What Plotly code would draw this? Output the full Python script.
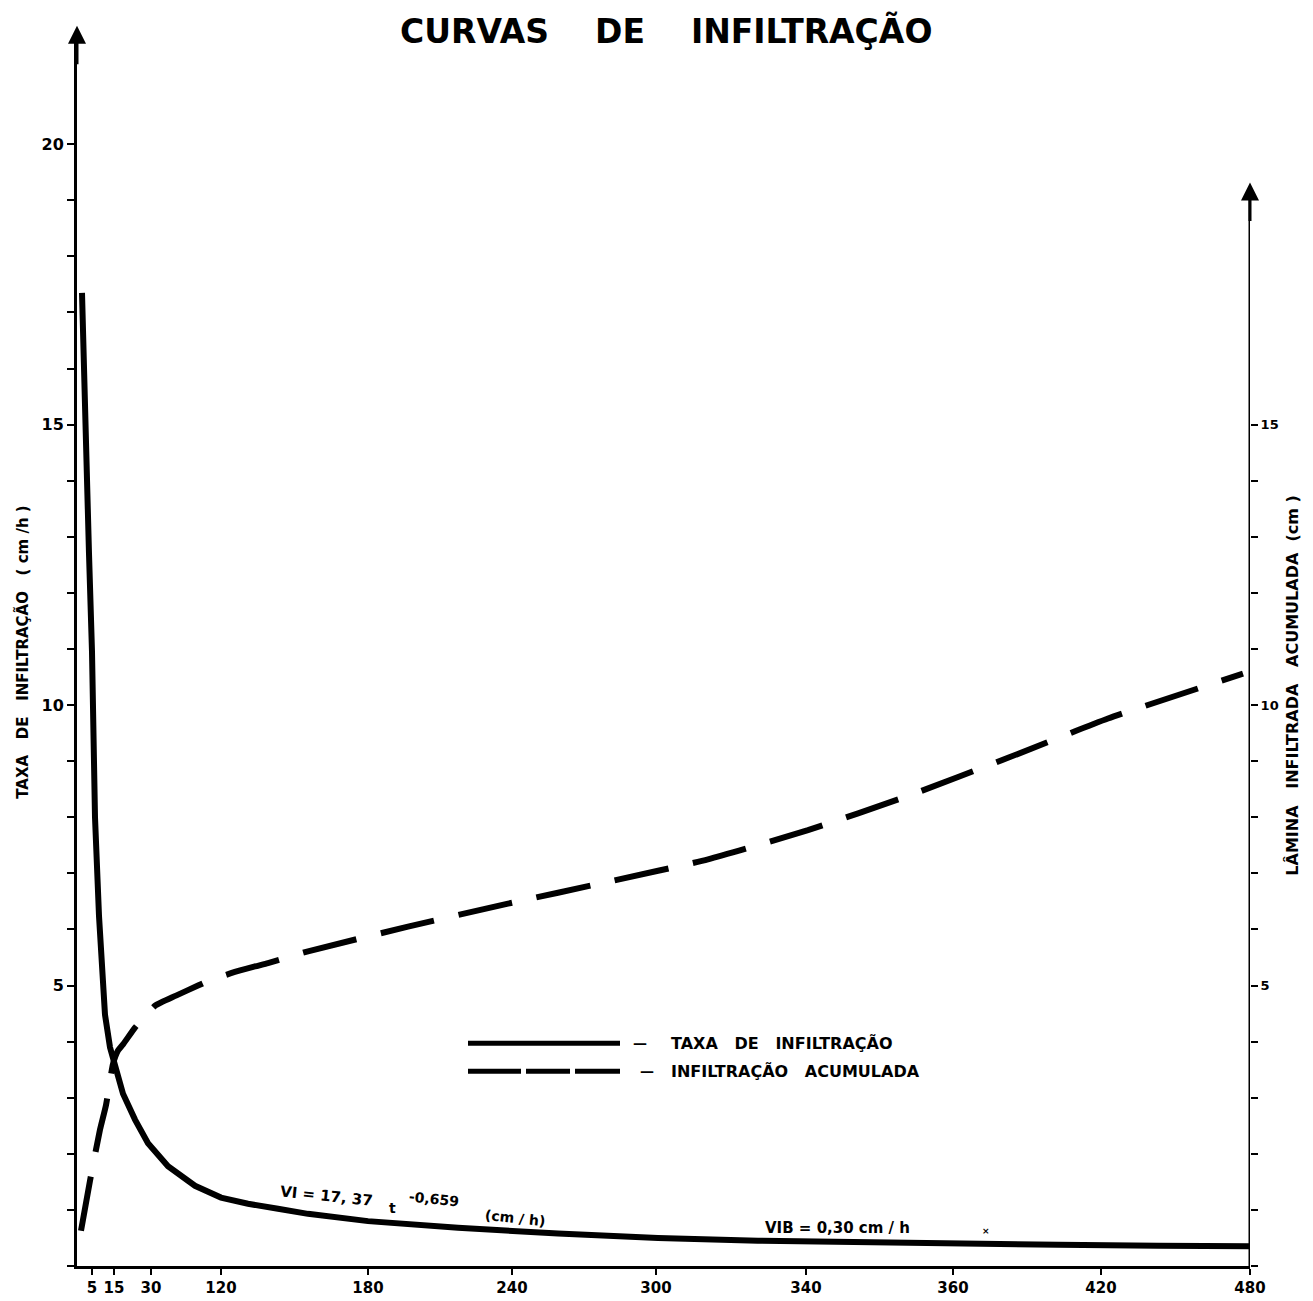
import plotly.graph_objects as go

# ---- data (x in drawing-position units along the hand-drawn time axis) ----
tick_pos = [15, 37, 74, 144, 291, 435, 579, 729, 876, 1024, 1173]
tick_labels = ["5", "15", "30", "120", "180", "240", "300", "340", "360", "420", "480"]

vi_x = [5, 8, 12, 15, 18, 22, 25, 28, 33, 38, 46, 58, 71, 91, 118, 144, 171, 201, 231,
        291, 381, 481, 581, 681, 781, 881, 981, 1081, 1173]
vi_y = [17.35, 15.0, 12.7, 10.95, 8.0, 6.24, 5.3, 4.48, 3.90, 3.58, 3.07, 2.61, 2.19, 1.78,
        1.43, 1.22, 1.11, 1.02, 0.93, 0.80, 0.68, 0.58, 0.50, 0.45, 0.42, 0.40, 0.38, 0.36, 0.35]

ia_x = [4, 13, 23, 29, 36, 41, 46, 58, 71, 78, 99, 121, 131, 154, 178, 191, 231,
        331, 431, 531, 631, 731, 831, 931, 1031, 1166]
ia_y = [0.63, 1.52, 2.43, 2.87, 3.60, 3.84, 3.95, 4.25, 4.51, 4.64, 4.82, 5.0, 5.08, 5.22,
        5.34, 5.40, 5.61, 6.05, 6.46, 6.85, 7.25, 7.77, 8.38, 9.06, 9.76, 10.56]

left_ticks = list(range(0, 21))
left_text = [str(v) if v in (5, 10, 15, 20) else "" for v in left_ticks]
right_ticks = list(range(0, 16))
right_text = [str(v) if v in (5, 10, 15) else "" for v in right_ticks]

FONT = "DejaVu Sans"
BLACK = "#000000"


def bold(size):
    return dict(family=FONT, size=size, weight="bold", color=BLACK)


fig = go.Figure()
fig.add_trace(go.Scatter(x=vi_x, y=vi_y, mode="lines", line=dict(color=BLACK, width=6),
                         showlegend=False, hoverinfo="skip"))
fig.add_trace(go.Scatter(x=ia_x, y=ia_y, mode="lines", yaxis="y2",
                         line=dict(color=BLACK, width=6, dash="55px,25px", shape="spline", smoothing=0.5),
                         showlegend=False, hoverinfo="skip"))

fig.update_layout(
    width=1313, height=1301,
    margin=dict(l=69, r=71, t=24, b=29),
    paper_bgcolor="white", plot_bgcolor="white",
    font=dict(family=FONT, color=BLACK),
    xaxis=dict(range=[0, 1173], showgrid=False, zeroline=False, showline=True,
               linecolor=BLACK, linewidth=3, ticks="outside", ticklen=6, tickwidth=2,
               tickcolor=BLACK, tickvals=tick_pos, ticktext=tick_labels,
               tickfont=bold(15), fixedrange=True),
    yaxis=dict(range=[0, 22], showgrid=False, zeroline=False, showline=True,
               linecolor=BLACK, linewidth=3, ticks="outside", ticklen=7, tickwidth=2,
               tickcolor=BLACK, tickvals=left_ticks, ticktext=left_text,
               tickfont=bold(16)),
    yaxis2=dict(range=[0, 22], overlaying="y", side="right", showgrid=False, zeroline=False,
                showline=False, ticks="outside", ticklen=7, tickwidth=2, tickcolor=BLACK,
                tickvals=right_ticks, ticktext=right_text, tickfont=bold(13)),
)

shapes = []
# right axis (shorter than the plot)
shapes.append(dict(type="line", xref="x", yref="y", x0=1173, x1=1173, y0=0, y1=19.2,
                   line=dict(color=BLACK, width=3)))
# scan border on far right
shapes.append(dict(type="line", xref="paper", yref="paper", x0=1.0563, x1=1.0563, y0=-0.02, y1=1.02,
                   line=dict(color=BLACK, width=3)))
# legend samples
shapes.append(dict(type="line", xref="x", yref="y", x0=391, x1=543, y0=3.97, y1=3.97,
                   line=dict(color=BLACK, width=5)))
for a, b in [(391, 444), (449, 493), (498, 543)]:
    shapes.append(dict(type="line", xref="x", yref="y", x0=a, x1=b, y0=3.47, y1=3.47,
                       line=dict(color=BLACK, width=5)))
fig.update_layout(shapes=shapes)


def txt(x, y, text, size, xref="x", yref="y", angle=0, xanchor="center", yanchor="middle"):
    return dict(x=x, y=y, xref=xref, yref=yref, showarrow=False, text=text, textangle=angle,
                xanchor=xanchor, yanchor=yanchor, font=bold(size))


ann = []
# axis arrowheads (tips placed in paper coordinates)
ann.append(dict(x=0, y=1.005, xref="paper", yref="paper", ax=0, ay=40,
                showarrow=True, arrowhead=2, arrowsize=1.2, arrowwidth=3, arrowcolor=BLACK, text=""))
ann.append(dict(x=1, y=0.878, xref="paper", yref="paper", ax=0, ay=40,
                showarrow=True, arrowhead=2, arrowsize=1.2, arrowwidth=3, arrowcolor=BLACK, text=""))
# title
ann.append(txt(0.502, 1.019, "CURVAS    DE    INFILTRAÇÃO", 33, "paper", "paper", yanchor="top"))
# axis titles
ann.append(txt(-0.046, 0.497, "TAXA   DE   INFILTRAÇÃO   ( cm /h )", 15, "paper", "paper", -90))
ann.append(txt(1.0355, 0.47, "LÂMINA   INFILTRADA   ACUMULADA  (cm )", 16, "paper", "paper", -90))
# legend texts
ann.append(txt(563, 3.97, "—", 14))
ann.append(txt(592, 3.97, "TAXA   DE   INFILTRAÇÃO", 16, xanchor="left"))
ann.append(txt(570, 3.47, "—", 14))
ann.append(txt(592, 3.47, "INFILTRAÇÃO   ACUMULADA", 16, xanchor="left"))
# equations
ann.append(txt(249, 1.25, "VI = 17, 37", 15, angle=6))
ann.append(txt(315, 1.04, "t", 14))
ann.append(txt(357, 1.20, "-0,659", 14, angle=6))
ann.append(txt(438, 0.86, "(cm / h)", 14, angle=6))
ann.append(txt(760, 0.67, "VIB = 0,30 cm / h", 15))
ann.append(txt(909, 0.62, "×", 9))
fig.update_layout(annotations=ann)

fig.write_html("out.html")
